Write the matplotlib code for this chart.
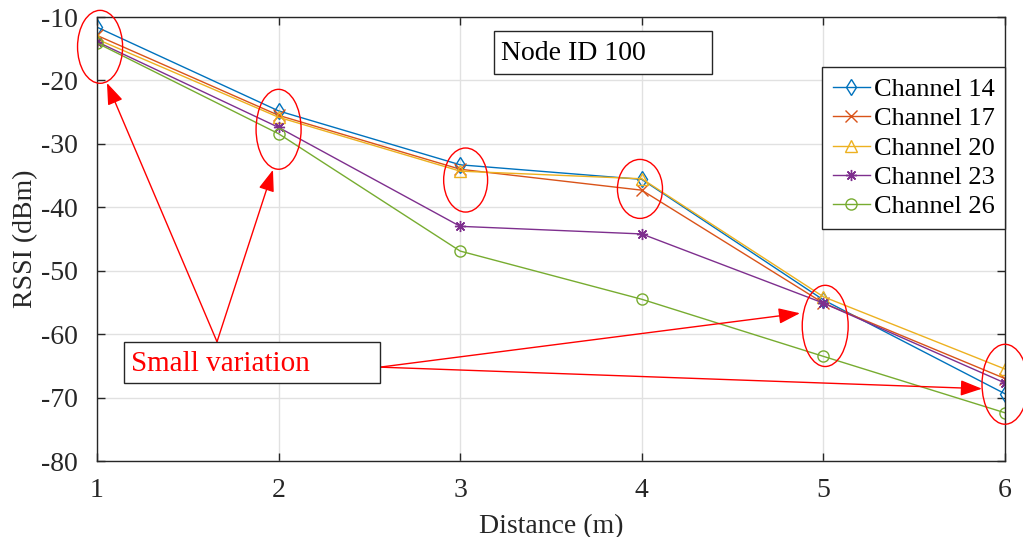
import matplotlib.pyplot as plt
from matplotlib.patches import Ellipse, Rectangle

plt.rcParams['font.family'] = ['Liberation Serif', 'DejaVu Serif']
plt.rcParams['axes.unicode_minus'] = False

distance = [1, 2, 3, 4, 5, 6]
ch14 = [-11.6, -24.8, -33.3, -35.6, -54.6, -69.4]
ch17 = [-12.9, -25.5, -34.0, -37.3, -55.1, -67.0]
ch20 = [-13.5, -25.8, -34.3, -35.5, -54.1, -65.5]
ch23 = [-13.9, -27.4, -43.0, -44.2, -55.1, -67.7]
ch26 = [-14.1, -28.4, -46.9, -54.5, -63.5, -72.4]

labels = ["Channel 14", "Channel 17", "Channel 20", "Channel 23", "Channel 26"]
series = [ch14, ch17, ch20, ch23, ch26]
colors = ["#0072BD", "#D95319", "#EDB120", "#7E2F8E", "#77AC30"]
markers = ["d", "x", "^", (8, 2, 0), "o"]

# ellipses around the clusters: (x, y, width, height) in data units
circles = [(1.017, -14.7, 0.248, 11.5), (2.0, -27.7, 0.248, 12.6),
           (3.03, -35.7, 0.242, 10.1), (3.99, -37.1, 0.248, 9.3),
           (5.01, -58.7, 0.253, 12.8), (6.0, -67.9, 0.253, 12.6)]

fig = plt.figure(figsize=(10.23, 5.37), dpi=100)
ax = fig.add_axes([0.0948, 0.1415, 0.8876, 0.8268])

for vals, lab, col, mk in zip(series, labels, colors, markers):
    ax.plot(distance, vals, color=col, marker=mk, markersize=8,
            markerfacecolor='none', markeredgecolor=col, markeredgewidth=1.0,
            linewidth=1.0, label=lab)

ax.set_xlim(1, 6)
ax.set_ylim(-80, -10)
ax.set_xticks(distance)
ax.set_yticks(range(-80, 0, 10))
ax.grid(True, color='#e1e1e1', linewidth=1.0)
ax.set_axisbelow(True)
ax.tick_params(direction='in', length=6, width=1.0, labelsize=20,
               colors='#262626', top=True, right=True)
ax.tick_params(axis='x', pad=12)
ax.tick_params(axis='y', pad=14)
for s in ax.spines.values():
    s.set_color('#262626')
    s.set_linewidth(1.0)

ax.set_xlabel("Distance (m)", fontsize=20, color='#262626', labelpad=8)
ax.set_ylabel("RSSI (dBm)", fontsize=20, color='#262626', labelpad=2)

leg = ax.legend(loc='upper right', bbox_to_anchor=(1.0, 0.887), borderaxespad=0,
                fontsize=19, fancybox=False, edgecolor='#262626', framealpha=1,
                handlelength=1.4, handletextpad=0.15, labelspacing=0.22,
                borderpad=0.4)
leg.get_frame().set_linewidth(1.0)

for cx, cy, w, h in circles:
    ax.add_patch(Ellipse((cx, cy), w, h, fill=False, edgecolor='red',
                         linewidth=1.0, clip_on=False, zorder=5))

arrow = dict(arrowstyle='-|>,head_length=0.6,head_width=0.22', color='red',
             lw=1.0, mutation_scale=22, shrinkA=0, shrinkB=0)
ax.annotate("", xy=(1.055, -20.4), xytext=(1.661, -61.2), arrowprops=arrow)
ax.annotate("", xy=(1.969, -34.1), xytext=(1.661, -61.2), arrowprops=arrow)
ax.annotate("", xy=(4.871, -56.7), xytext=(2.558, -65.2), arrowprops=arrow,
            annotation_clip=False)
ax.annotate("", xy=(5.873, -68.6), xytext=(2.558, -65.2), arrowprops=arrow,
            annotation_clip=False)

# text boxes (figure pixel positions converted to fractions)
W, H = 1023, 537
fig.patches.append(Rectangle((124 / W, 1 - 383 / H), 256 / W, 41 / H,
                             transform=fig.transFigure, facecolor='white',
                             edgecolor='#262626', linewidth=1.0, zorder=6))
fig.text(131 / W, 1 - 364 / H, "Small variation", color='red', fontsize=21,
         va='center', ha='left', zorder=7)

fig.patches.append(Rectangle((494 / W, 1 - 74 / H), 218 / W, 43 / H,
                             transform=fig.transFigure, facecolor='white',
                             edgecolor='#262626', linewidth=1.0, zorder=6))
fig.text(501 / W, 1 - 54 / H, "Node ID 100", color='black', fontsize=20,
         va='center', ha='left', zorder=7)

fig.savefig("out.png", dpi=100)
